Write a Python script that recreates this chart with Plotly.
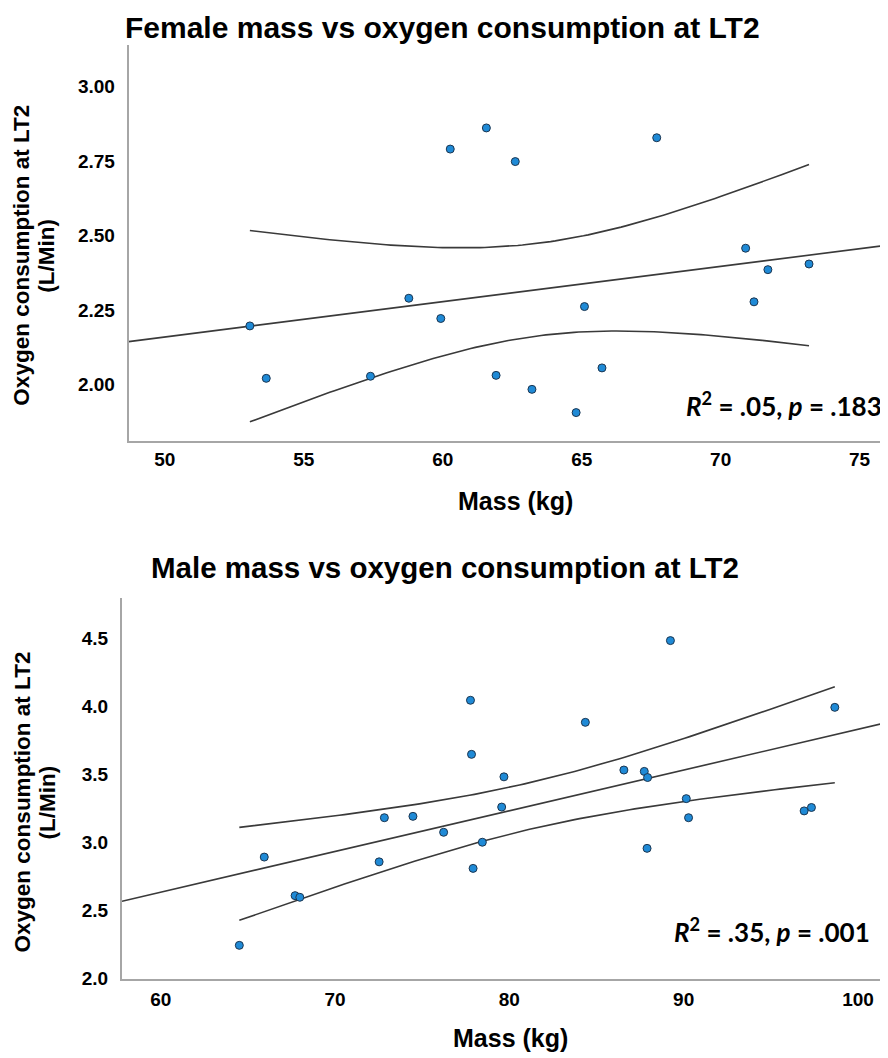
import numpy as np
import plotly.graph_objects as go

# ---------------- data ----------------
female_mass = [53.06, 53.65, 57.40, 58.78, 59.93, 60.27, 61.57, 61.92, 62.61, 63.21,
               64.80, 65.10, 65.73, 67.70, 70.90, 71.20, 71.70, 73.18]
female_vo2 = [2.197, 2.021, 2.028, 2.290, 2.222, 2.791, 2.862, 2.031, 2.749, 1.984,
              1.906, 2.262, 2.056, 2.829, 2.458, 2.278, 2.386, 2.405]

male_mass = [64.51, 65.94, 67.71, 67.98, 72.53, 72.83, 74.47, 76.23, 77.77, 77.83,
             77.92, 78.45, 79.56, 79.69, 84.36, 86.57, 87.74, 87.93, 87.90, 89.24,
             90.15, 90.28, 96.91, 97.33, 98.67]
male_vo2 = [2.243, 2.891, 2.608, 2.596, 2.856, 3.180, 3.190, 3.073, 4.042, 3.645,
            2.808, 3.000, 3.258, 3.480, 3.880, 3.530, 3.520, 3.475, 2.955, 4.480,
            3.320, 3.180, 3.230, 3.255, 3.990]

female_title = "Female mass vs oxygen consumption at LT2"
male_title = "Male mass vs oxygen consumption at LT2"
female_stats = "<i>R</i><sup>2</sup> = .05, <i>p</i> = .183"
male_stats = "<i>R</i><sup>2</sup> = .35, <i>p</i> = .001"
x_title = "Mass (kg)"
y_title_1 = "Oxygen consumption at LT2"
y_title_2 = "(L/Min)"

female_xticks = [50, 55, 60, 65, 70, 75]
female_yticks = [2.00, 2.25, 2.50, 2.75, 3.00]
male_xticks = [60, 70, 80, 90, 100]
male_yticks = [2.0, 2.5, 3.0, 3.5, 4.0, 4.5]

T_CRIT_F = 2.120  # t(0.975, df=16)
T_CRIT_M = 2.069  # t(0.975, df=23)

# ---------------- layout constants ----------------
W, H = 888, 1058
TOP_X = [48.70, 76.31]
TOP_Y = [1.811, 3.14]
BOT_X = [57.78, 102.18]
BOT_Y = [1.998, 4.79]


def fit_and_ci(x, y, tcrit, xr):
    x = np.asarray(x, float)
    y = np.asarray(y, float)
    n = len(x)
    b, a = np.polyfit(x, y, 1)
    resid = y - (a + b * x)
    s = np.sqrt(np.sum(resid ** 2) / (n - 2))
    xm = x.mean()
    sxx = np.sum((x - xm) ** 2)
    xl = np.linspace(xr[0], xr[1], 50)
    yl = a + b * xl
    xc = np.linspace(x.min(), x.max(), 120)
    yc = a + b * xc
    h = tcrit * s * np.sqrt(1.0 / n + (xc - xm) ** 2 / sxx)
    return xl, yl, xc, yc + h, yc - h


fig = go.Figure()

line_style = dict(color="#3a3a3a", width=1.6)
marker_style = dict(size=8, color="#1f8ad6", line=dict(color="#1b3550", width=1))

for (x, y, tc, xr, xa, ya) in [
    (female_mass, female_vo2, T_CRIT_F, TOP_X, "x", "y"),
    (male_mass, male_vo2, T_CRIT_M, BOT_X, "x2", "y2"),
]:
    xl, yl, xc, yu, yd = fit_and_ci(x, y, tc, xr)
    fig.add_trace(go.Scatter(x=xl, y=yl, mode="lines", line=line_style,
                             xaxis=xa, yaxis=ya, hoverinfo="skip"))
    fig.add_trace(go.Scatter(x=xc, y=yu, mode="lines", line=line_style,
                             xaxis=xa, yaxis=ya, hoverinfo="skip"))
    fig.add_trace(go.Scatter(x=xc, y=yd, mode="lines", line=line_style,
                             xaxis=xa, yaxis=ya, hoverinfo="skip"))
    fig.add_trace(go.Scatter(x=x, y=y, mode="markers", marker=marker_style,
                             xaxis=xa, yaxis=ya, cliponaxis=False))

tick_font = dict(family="Arial, Liberation Sans, sans-serif", size=19,
                 color="#000000", weight="bold")
axis_common = dict(showgrid=False, zeroline=False, showline=True,
                   linecolor="#a6a6a6", linewidth=2, ticks="outside",
                   tickcolor="rgba(0,0,0,0)", tickfont=tick_font, mirror=False)

fig.update_layout(
    width=W, height=H,
    margin=dict(l=0, r=0, t=0, b=0),
    paper_bgcolor="white", plot_bgcolor="white",
    showlegend=False,
    xaxis=dict(domain=[120.7 / W, 1], range=TOP_X, anchor="y",
               tickvals=female_xticks, ticklen=0, **axis_common),
    yaxis=dict(domain=[1 - 437 / H, 1 - 37.5 / H], range=TOP_Y, anchor="x",
               tickvals=female_yticks, tickformat=".2f", ticklen=8, **axis_common),
    xaxis2=dict(domain=[114 / W, 1], range=BOT_X, anchor="y2",
                tickvals=male_xticks, ticklen=2, **axis_common),
    yaxis2=dict(domain=[1 - 980 / H, 1 - 596 / H], range=BOT_Y, anchor="x2",
                tickvals=male_yticks, tickformat=".1f", ticklen=8, **axis_common),
)

bold = "Arial, Liberation Sans, sans-serif"


def px_ann(text, xpx, ypx, size, family=bold, xanchor="center", angle=0):
    fig.add_annotation(text="<b>" + text + "</b>", x=xpx / W, y=1 - ypx / H,
                       xref="paper", yref="paper", showarrow=False,
                       xanchor=xanchor, yanchor="middle", textangle=angle,
                       font=dict(family=family, size=size, color="#000000"))


# titles
px_ann(female_title, 434, 20, 30)
px_ann(male_title, 437, 565, 29.5)
# x axis titles
px_ann(x_title, 507, 498, 25)
px_ann(x_title, 502, 1040, 25)
# y axis titles
for yc in (250, 802):
    px_ann(y_title_1, 14, yc, 22.5, angle=-90)
    px_ann(y_title_2, 39, yc, 22.5, angle=-90)
# stats
px_ann(female_stats, 776, 400, 26, family="Lato, Open Sans, sans-serif")
px_ann(male_stats, 764, 931, 26, family="Lato, Open Sans, sans-serif")

fig.write_html("out.html")
